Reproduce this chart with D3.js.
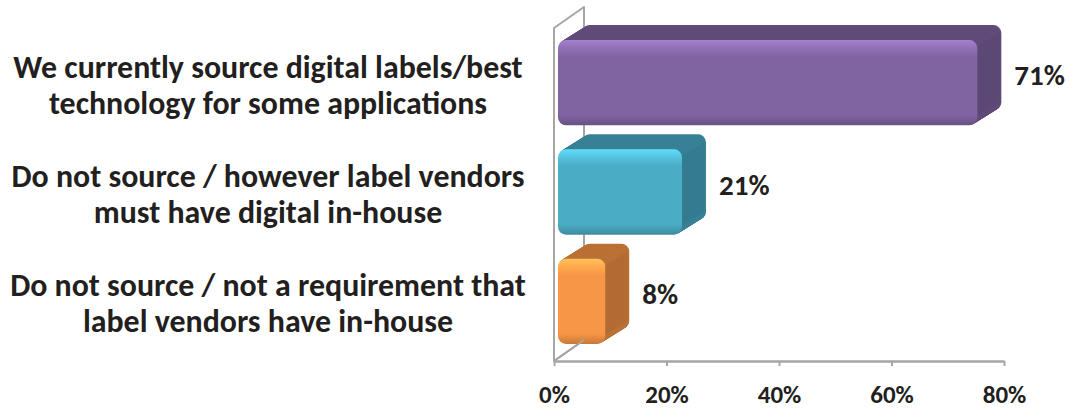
<!DOCTYPE html>
<html>
<head>
<meta charset="utf-8">
<script src="https://cdn.jsdelivr.net/npm/d3@7"></script>
<style>
  body { margin: 0; background: #fff; }
  svg { display: block; }
</style>
</head>
<body>
<svg id="chart" width="1081" height="409"></svg>
<script>
// Survey answers, top to bottom
const categories = [
  "We currently source digital labels/best\ntechnology for some applications",
  "Do not source / however label vendors\nmust have digital in-house",
  "Do not source / not a requirement that\nlabel vendors have in-house"
];
const shares = [0.71, 0.21, 0.08];
const tickValues = [0, 0.2, 0.4, 0.6, 0.8];
const barColors = ["#8064a2", "#4bacc6", "#f79646"];

const svg = d3.select("#chart");
const ink = "#231f20";
const fontStack = "Carlito, Calibri, Lato, 'Open Sans', sans-serif";

// Floor (front edge) and wall geometry
const floorY = 361;
const depth = { dx: 30, dy: -21 };           // wall depth offset
const barDepth = { dx: 24, dy: -15 };        // bar extrusion offset

// Axis scale along the front edge of the floor
const x = d3.scaleLinear().domain([0, 0.8]).range([554, 1004]);
// Bars sit nearer the viewer, so their lengths appear slightly stretched
const perspective = 1.05;
const xBar = d3.scaleLinear().domain([0, 0.8])
  .range([558, 558 + perspective * (x.range()[1] - x.range()[0])]);

const y = d3.scaleBand().domain(categories).range([16, 368])
  .paddingInner(0.22).paddingOuter(0.22);

// Gradients for the front faces
const defs = svg.append("defs");
barColors.forEach((c, i) => {
  const base = d3.color(c);
  const g = defs.append("linearGradient").attr("id", "front" + i)
    .attr("x1", 0).attr("y1", 0).attr("x2", 0).attr("y2", 1);
  g.append("stop").attr("offset", "0%").attr("stop-color", base.brighter(0.7));
  g.append("stop").attr("offset", "9%").attr("stop-color", base.brighter(0.35));
  g.append("stop").attr("offset", "20%").attr("stop-color", base);
  g.append("stop").attr("offset", "88%").attr("stop-color", base);
  g.append("stop").attr("offset", "100%").attr("stop-color", base.darker(0.6));
});

// Side wall of the category axis
const wallColor = "#a6a6a6";
const x0 = x(0);
const wallTop = 28;
svg.append("path")
  .attr("d", `M${x0},${floorY} L${x0},${wallTop} L${x0 + depth.dx},${wallTop + depth.dy} L${x0 + depth.dx},${floorY + depth.dy} Z`)
  .attr("fill", "none").attr("stroke", wallColor).attr("stroke-width", 2)
  .attr("stroke-linejoin", "round");

// Bars: an extruded rounded box per answer
const r = 8;
const steps = 24;
const bars = svg.append("g").selectAll("g").data(categories).join("g");

bars.each(function (cat, i) {
  const g = d3.select(this);
  const bx0 = xBar(0), bx1 = xBar(shares[i]);
  const by = y(cat), bh = y.bandwidth();
  const base = d3.color(barColors[i]);
  const depthCol = base.darker(0.8);
  for (let s = steps; s >= 1; s--) {
    const t = s / steps;
    g.append("rect")
      .attr("x", bx0 + t * barDepth.dx).attr("y", by + t * barDepth.dy)
      .attr("width", bx1 - bx0).attr("height", bh)
      .attr("rx", r).attr("ry", r)
      .attr("fill", depthCol);
  }
  // slightly darker right-hand side face
  g.append("path")
    .attr("d", `M${bx1 - 2},${by + r} L${bx1 - 2 + barDepth.dx},${by + barDepth.dy + r} L${bx1 - 2 + barDepth.dx},${by + bh + barDepth.dy - r} L${bx1 - 2},${by + bh - r} Z`)
    .attr("fill", base.darker(1.1)).attr("opacity", 0.4);
  g.append("rect")
    .attr("x", bx0).attr("y", by)
    .attr("width", bx1 - bx0).attr("height", bh)
    .attr("rx", r).attr("ry", r)
    .attr("fill", `url(#front${i})`);
});

// Value axis on the floor
const axis = d3.axisBottom(x).tickValues(tickValues)
  .tickFormat(d3.format(".0%")).tickSize(5).tickSizeOuter(0);
const ax = svg.append("g").attr("transform", `translate(0,${floorY})`).call(axis);
ax.select(".domain").attr("stroke", wallColor).attr("stroke-width", 2.5);
ax.selectAll(".tick line").attr("stroke", wallColor).attr("stroke-width", 2);
ax.selectAll(".tick text")
  .attr("y", 42).attr("dy", 0)
  .attr("fill", ink)
  .style("font-family", fontStack).style("font-weight", "bold").style("font-size", "25px");

// Floor corner diagonal
svg.append("line")
  .attr("x1", x0).attr("y1", floorY)
  .attr("x2", x0 + depth.dx).attr("y2", floorY + depth.dy)
  .attr("stroke", wallColor).attr("stroke-width", 2);

// Value labels at the end of each bar
svg.append("g").selectAll("text").data(categories).join("text")
  .attr("x", (d, i) => xBar(shares[i]) + barDepth.dx + 13)
  .attr("y", d => y(d) + y.bandwidth() / 2 + barDepth.dy / 2 + 10)
  .attr("fill", ink)
  .style("font-family", fontStack).style("font-weight", "bold").style("font-size", "29px")
  .text((d, i) => d3.format(".0%")(shares[i]));

// Category labels, centred two-line blocks
const catG = svg.append("g");
const labelCenterX = 268;
const catText = catG.selectAll("text").data(categories).join("text")
  .attr("text-anchor", "middle")
  .attr("fill", ink)
  .style("font-family", fontStack).style("font-weight", "bold").style("font-size", "30px");
catText.each(function (d) {
  const t = d3.select(this);
  const mid = y(d) + y.bandwidth() / 2;
  d.split("\n").forEach((line, k) => {
    t.append("tspan").attr("x", labelCenterX)
      .attr("y", mid - 5 + k * 36).text(line);
  });
});
// fit the widest line to the label column
let widest = 0;
catG.selectAll("tspan").each(function () {
  widest = Math.max(widest, this.getComputedTextLength());
});
const fitSize = 30 * 516 / widest;
catText.style("font-size", fitSize + "px");
</script>
</body>
</html>
